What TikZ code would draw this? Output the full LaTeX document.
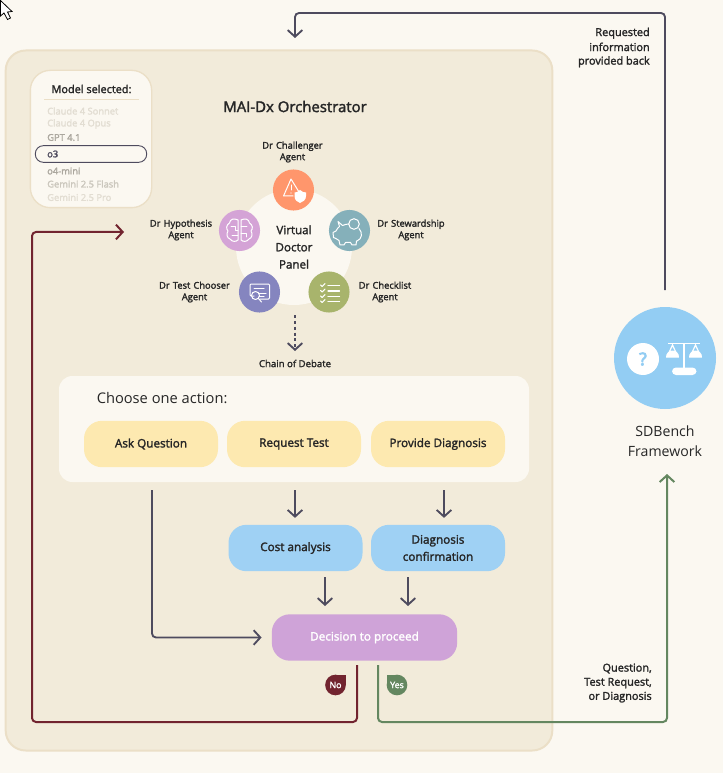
\documentclass[tikz,border=0pt]{standalone}
\usepackage{fontspec}
\setmainfont{Open Sans}[BoldFont={Open Sans},BoldFeatures={FakeBold=2}]
\newfontfamily\heavyq{Open Sans}[FakeBold=5]
\usetikzlibrary{arrows.meta}
\definecolor{bgc}{HTML}{FBF8F1}
\definecolor{panelc}{HTML}{F2EBDA}
\definecolor{edgec}{HTML}{EBDFC7}
\definecolor{yellowc}{HTML}{FDE9B0}
\definecolor{bluec}{HTML}{9FD1F4}
\definecolor{sdc}{HTML}{93CDF3}
\definecolor{purplec}{HTML}{CFA3D8}
\definecolor{maroonc}{HTML}{72242F}
\definecolor{greenc}{HTML}{648760}
\definecolor{darkc}{HTML}{4E4B5E}
\definecolor{inkc}{HTML}{262626}
\definecolor{fadeA}{HTML}{E2DDD2}
\definecolor{fadeB}{HTML}{CBC7BD}
\definecolor{fadeC}{HTML}{ABA79E}
\newcommand{\fs}[1]{\fontsize{#1}{#1}\selectfont}
\tikzset{
 every node/.style={text=inkc,align=center,inner sep=0pt},
 box/.style={rounded corners=13.5pt,minimum height=34.8pt,minimum width=100.5pt,font=\fs{8.8}\bfseries},
 yellowbox/.style={box,fill=yellowc},
 bluebox/.style={box,fill=bluec},
 agent/.style={circle,minimum size=30.8pt},
 agentlabel/.style={font=\fs{7}\bfseries,text width=70pt},
 modelitem/.style={anchor=west,font=\fs{7}\bfseries},
 sidelabel/.style={font=\fs{8.2}\bfseries,align=right,anchor=east,text=inkc},
 flow/.style={draw=darkc,line width=1.4pt,-{Straight Barb[length=5pt,width=11pt,line width=1.4pt]},rounded corners=3pt},
 loopline/.style={line width=1.5pt,rounded corners=3pt,-{Straight Barb[length=5pt,width=11pt,line width=1.5pt]}},
 icon/.style={draw=white,line width=.75pt,line cap=round,line join=round},
 badge/.style={circle,minimum size=15.5pt,font=\fs{6.6}\bfseries,text=white}
}
\begin{document}
\begin{tikzpicture}[x=0.75pt,y=-0.75pt]
\useasboundingbox (0,0) rectangle (723,773);
\fill[bgc] (0,0) rectangle (723,773);
% cursor
\draw[black,fill=white,line width=.6pt,line join=miter] (.5,.5) -- (.5,16) -- (4,13) -- (7.5,19.5) -- (10.5,18) -- (7.5,12) -- (12,11.5) -- cycle;
% main panel
\node[draw=edgec,fill=panelc,line width=1.5pt,rounded corners=15pt,minimum width=410pt,minimum height=525pt] (panel) at (279,400.5) {};
% model box
\node[draw=edgec,fill=bgc,line width=1pt,rounded corners=15pt,minimum width=91pt,minimum height=103pt] (model) at (91,139) {};
\node[font=\fs{8.2}\bfseries] (modeltitle) at (91.5,89) {Model selected:};
\draw[edgec,line width=.6pt] (44,99) -- (139,99);
\node[modelitem,text=fadeA] (m1) at (47,111) {Claude 4 Sonnet};
\node[modelitem,text=fadeA] (m2) at (47,124) {Claude 4 Opus};
\node[modelitem,text=fadeC] (m3) at (47,137.5) {GPT 4.1};
\node[draw=darkc,line width=.7pt,rounded corners=6pt,minimum width=83.5pt,minimum height=12.5pt,fill=bgc] (pill) at (91,154) {};
\node[modelitem,text=darkc] (m4) at (47,154) {o3};
\node[modelitem,text=fadeC] (m5) at (47,171) {o4-mini};
\node[modelitem,text=fadeB] (m6) at (47,184) {Gemini 2.5 Flash};
\node[modelitem,text=fadeA] (m7) at (47,197.5) {Gemini 2.5 Pro};
% title
\node[font=\fs{11.2}\bfseries] (title) at (295,106.5) {MAI-Dx Orchestrator};
% virtual panel
\node[circle,fill=bgc,minimum size=87pt] (virtual) at (294,247) {};
\node[font=\fs{8.7}\bfseries,align=center] (vtext) at (294,247) {Virtual\\[4.2pt]Doctor\\[4.2pt]Panel};
% agents
\node[agent,fill={rgb,255:red,255;green,150;blue,108}] (chal) at (293.5,190) {};
\node[agent,fill={rgb,255:red,133;green,176;blue,186}] (stew) at (349.5,230.5) {};
\node[agent,fill={rgb,255:red,168;green,180;blue,108}] (check) at (329,292) {};
\node[agent,fill={rgb,255:red,133;green,133;blue,191}] (chooser) at (259.5,292) {};
\node[agent,fill={rgb,255:red,212;green,163;blue,214}] (hypo) at (239.5,230.5) {};
% agent labels
\node[agentlabel] (lchal) at (292.5,152) {Dr Challenger\\[1.6pt]Agent};
\node[agentlabel] (lstew) at (411,230) {Dr Stewardship\\[1.6pt]Agent};
\node[agentlabel] (lcheck) at (385,292) {Dr Checklist\\[1.6pt]Agent};
\node[agentlabel] (lchooser) at (194.5,292) {Dr Test Chooser\\[1.6pt]Agent};
\node[agentlabel] (lhypo) at (181,230) {Dr Hypothesis\\[1.6pt]Agent};
% warning icon
\draw[icon] (291,179) -- (299,192) (293,196) -- (283.5,196) -- (291,179);
\draw[icon] (291,185) -- (291,190);
\fill[white] (291,193) circle (.7);
\fill[white] (300,190) .. controls (302,192) and (304,192.5) .. (306,192.5) -- (306,196) .. controls (306,200) and (303,202) .. (300,203) .. controls (297,202) and (294.5,200) .. (294.5,196) -- (294.5,192.5) .. controls (296,192.5) and (298,192) .. (300,190) -- cycle;
% piggy icon
\draw[icon] (342.5,225.5) .. controls (345,224.5) and (347,224) .. (349,224) (359,228.5) .. controls (363,233) and (362,239) .. (357,241) -- (356.5,241) -- (356,245) -- (352,245) -- (350.5,242.5) -- (345.5,242.5) -- (344,245) -- (340,245) -- (339,240.5) .. controls (337,239) and (335,238) .. (333.5,237.5) -- (333,232.5) -- (336,231) .. controls (337,229) and (338,227.5) .. (339.5,226.5) -- (338,221.5) -- (342.5,225.5);
\draw[icon] (354,224) circle (5.3);
% brain icon
\draw[icon] (238,220) .. controls (234,218) and (230,219) .. (229.5,223) .. controls (226,225) and (226,229) .. (228,231) .. controls (226,234) and (227,238) .. (230,239) .. controls (232,242) and (236,242) .. (238,240) -- (238,220);
\draw[icon] (241,220) .. controls (245,218) and (249,219) .. (249.5,223) .. controls (253,225) and (253,229) .. (251,231) .. controls (253,234) and (252,238) .. (249,239) .. controls (247,242) and (243,242) .. (241,240) -- (241,220);
\draw[icon,line width=.6pt] (231,226) -- (235,226) -- (235,230) -- (238,230) (241,226) -- (247,226) (241,233) -- (246,233) -- (246,237) (232,235) -- (238,235);
% checklist icon
\foreach \yy/\zz in {285/285.5,290.5/291,296/296.5,301/301.5}{
 \draw[icon,line width=.8pt] (320.5,\yy) -- (322,\yy+1.5) -- (325,\yy-1.5);
 \draw[icon,line width=.9pt] (328,\zz) -- (339.5,\zz);
}
% chooser icon
\draw[icon] (254,296) -- (251,296) -- (250,295) -- (250,285) -- (251,284) -- (268.5,284) -- (269.5,285) -- (269.5,298) -- (268.5,299) -- (260,299);
\draw[icon] (254,288) -- (264,288) (259,293) -- (266,293) (259,296) -- (264,296);
\draw[icon] (255.5,295.5) circle (4);
\draw[icon] (258.5,298.5) -- (261.5,302);
% chain of debate
\node[font=\fs{7.2}\bfseries] (chain) at (295,363.5) {Chain of Debate};
\coordinate (dotA) at (295,315);
\coordinate (dotB) at (295,351);
\draw[flow,dash pattern=on 2.2pt off 2.2pt] (dotA) -- (dotB);
% action panel
\node[fill=bgc,rounded corners=10pt,minimum width=352.5pt,minimum height=79.5pt] (action) at (294,429) {};
\node[font=\fs{11},anchor=west] (choose) at (96.5,398.5) {Choose one action:};
\node[yellowbox] (ask) at (151,444) {\raisebox{-.8pt}{Ask Question}};
\node[yellowbox] (req) at (294,444) {\raisebox{-.8pt}{Request Test}};
\node[yellowbox] (diag) at (438,444) {\raisebox{-.8pt}{Provide Diagnosis}};
\node[bluebox] (cost) at (295.5,548) {Cost analysis};
\node[bluebox,align=center] (conf) at (438,548) {Diagnosis\\[3pt]confirmation};
\node[box,fill=purplec,minimum width=139pt,text=white] (dec) at (364.5,637.5) {\raisebox{-.8pt}{Decision to proceed}};
% internal arrows
\coordinate (reqOut) at (295,482);
\coordinate (diagOut) at (444,482);
\coordinate (askOut) at (152,482);
\draw[flow,shorten <=6pt,shorten >=5pt] (reqOut) -- (reqOut |- cost.north);
\draw[flow,shorten <=6pt,shorten >=5pt] (diagOut) -- (diagOut |- conf.north);
\coordinate (decA) at (325,614);
\coordinate (decB) at (408,614);
\draw[flow,shorten <=4.5pt,shorten >=6pt] (cost.south -| decA) -- (decA);
\draw[flow,shorten <=4.5pt,shorten >=6pt] (conf.south -| decB) -- (decB);
\draw[flow,shorten <=6pt,shorten >=7.5pt] (askOut) |- (dec.west);
% loops
\coordinate (noOut) at (357,665);
\coordinate (noLow) at (32,722);
\coordinate (noEnd) at (124,232);
\draw[loopline,maroonc] (noOut) |- (noLow) |- (noEnd);
\coordinate (yesOut) at (378,665);
\coordinate (yesLow) at (667,722);
\coordinate (yesEnd) at (667,474);
\draw[loopline,greenc] (yesOut) |- (yesLow) -- (yesEnd);
% sdbench
\node[circle,fill=sdc,minimum size=76.5pt] (sd) at (665,358) {};
\node[font=\fs{10.6},align=center] (sdtext) at (665,441) {SDBench\\[4.2pt]Framework};
\coordinate (topIn) at (295,38);
\coordinate (topCorner) at (665,13);
\draw[flow,shorten <=12.5pt] (sd.north) -- (topCorner) -- (topCorner -| topIn) -- (topIn);
% sd icons
\node[circle,fill=white,minimum size=24pt,text=sdc,font=\fs{13}\heavyq] (qm) at (643,359) {?};
\draw[white,line width=1.4pt] (668,343.5) -- (700,343.5);
\draw[white,line width=1.6pt] (684,343) -- (684,369);
\fill[white,rounded corners=3pt] (672,367.5) rectangle (696.5,375);
\foreach \cx in {672.5,695.5}{
 \draw[white,line width=.9pt] (\cx,345) -- (\cx-5.5,357) -- (\cx+5.5,357) -- cycle;
 \fill[white] (\cx-6.5,357) arc[start angle=180,end angle=360,radius=6.5];
}
% side labels
\node[sidelabel] (req1) at (650,47.5) {Requested\\[2pt]information\\[2pt]provided back};
\node[sidelabel] (q1) at (652,683) {Question,\\[2.4pt]Test Request,\\[2.4pt]or Diagnosis};
% badges
\fill[maroonc] (335,675) rectangle (346,685);
\node[badge,fill=maroonc] (no) at (335.5,685) {No};
\fill[greenc] (386.5,674.5) rectangle (397,685);
\node[badge,fill=greenc] (yes) at (397,685) {Yes};
\end{tikzpicture}
\end{document}
